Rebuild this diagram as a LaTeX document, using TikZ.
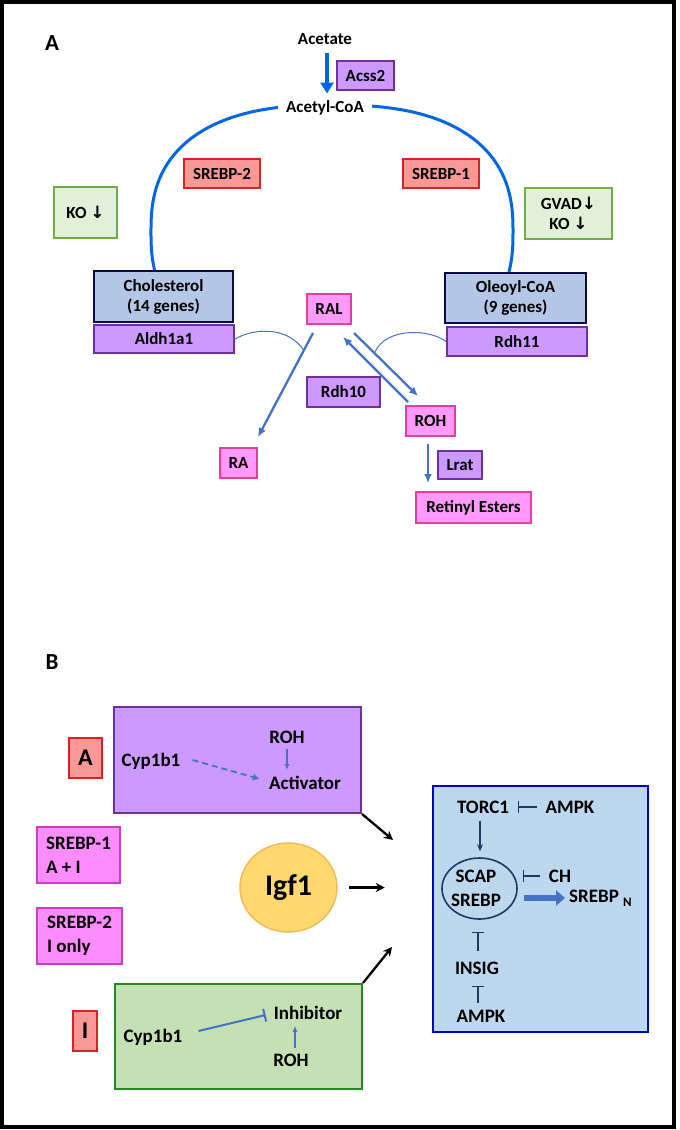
\documentclass[tikz,border=0pt]{standalone}
\usepackage{fontspec}
\setmainfont{Carlito}
\newfontfamily\symf{DejaVu Sans}
\usetikzlibrary{arrows.meta,shapes.geometric,calc}
\definecolor{salF}{RGB}{250,152,152}
\definecolor{salD}{RGB}{218,34,34}
\definecolor{grnF}{RGB}{226,240,217}
\definecolor{grnD}{RGB}{112,173,71}
\definecolor{navF}{RGB}{180,199,231}
\definecolor{navD}{RGB}{10,10,70}
\definecolor{purF}{RGB}{204,153,255}
\definecolor{purD}{RGB}{112,48,160}
\definecolor{pnkF}{RGB}{255,153,250}
\definecolor{pnkD}{RGB}{232,62,150}
\definecolor{magF}{RGB}{255,140,255}
\definecolor{magD}{RGB}{205,60,200}
\definecolor{igfF}{RGB}{255,217,110}
\definecolor{igfD}{RGB}{244,185,90}
\definecolor{gbF}{RGB}{197,224,180}
\definecolor{gbD}{RGB}{30,140,30}
\definecolor{bbF}{RGB}{189,215,238}
\definecolor{bbD}{RGB}{0,0,215}
\definecolor{arcB}{RGB}{0,102,225}
\definecolor{stB}{RGB}{68,114,196}
\definecolor{dkB}{RGB}{31,56,100}
\tikzset{
  lbl/.style={font=\bfseries\fontsize{17}{20}\selectfont, inner sep=0pt, align=center},
  lblb/.style={font=\bfseries\fontsize{19}{24}\selectfont, inner sep=0pt, align=center},
  boxa/.style={lbl, draw},
  salbox/.style={boxa, fill=salF, draw=salD, line width=1.8pt},
  grnbox/.style={boxa, fill=grnF, draw=grnD, line width=2.2pt},
  navbox/.style={boxa, fill=navF, draw=navD, line width=2.8pt},
  purbox/.style={boxa, fill=purF, draw=purD, line width=2pt},
  pnkbox/.style={boxa, fill=pnkF, draw=pnkD, line width=2pt},
  magbox/.style={lblb, draw, fill=magF, draw=magD, line width=1.8pt, align=left},
  sarr/.style={draw=stB, line width=2.3pt, -{Latex[length=9pt,width=8pt]}},
  thin/.style={draw=stB, line width=1pt},
  barr/.style={draw=black, line width=2.3pt, -{Stealth[length=9pt,width=9pt]}},
  inh/.style={draw=dkB, line width=1.6pt, -{Bar[width=12pt,line width=1.6pt]}},
  darr/.style={draw=dkB, line width=1.6pt, -{Stealth[length=7pt,width=6pt]}},
}
\begin{document}
\begin{tikzpicture}[x=1pt,y=-1pt]
\useasboundingbox (0,0) rectangle (680,1130);
\draw[line width=4pt] (2,2) rectangle (674,1127);

% ---------- Panel A ----------
\node[lbl, font=\bfseries\fontsize{23}{26}\selectfont] (labA) at (52,43) {A};

\draw[draw=arcB, line width=3pt] plot[domain=-13.6:192.8, samples=120, smooth]
  ({332+181*sign(cos(\x))*pow(abs(cos(\x))+0.00001,0.8)}, {232-127*sign(sin(\x))*pow(abs(sin(\x))+0.00001,0.8)});

\node[lbl] (acetate) at (325,39) {Acetate};
\node[lbl, fill=white, inner xsep=8pt, inner ysep=3pt] (acetyl) at (325,108) {Acetyl-CoA};
\draw[draw=arcB, line width=4pt, -{Triangle[length=11pt,width=13pt]}]
  ($(acetate.south)+(2,8)$) -- ($(acetyl.north)+(2,-4)$);
\node[purbox, minimum width=57pt, minimum height=29pt] (acss) at (365.5,75.5) {Acss2};

\node[salbox, minimum width=76pt, minimum height=29pt] (srebp2) at (222,173.5) {SREBP-2};
\node[salbox, minimum width=76pt, minimum height=29pt] (srebp1) at (441,173.5) {SREBP-1};
\node[grnbox, minimum width=63pt, minimum height=51pt] (ko) at (85.5,212.5) {KO {\symf\bfseries ↓}};
\node[grnbox, minimum width=87pt, minimum height=51pt] (gvad) at (568.5,213.5) {GVAD{\symf\bfseries ↓}\\KO {\symf\bfseries ↓}};

\node[navbox, minimum width=139pt, minimum height=51pt] (chol) at (163.5,296.5) {Cholesterol\\(14 genes)};
\node[purbox, minimum width=140pt, minimum height=28pt] (aldh) at (164,339) {Aldh1a1};
\node[navbox, minimum width=141pt, minimum height=50pt] (ole) at (515.5,298) {Oleoyl-CoA\\(9 genes)};
\node[purbox, minimum width=140pt, minimum height=29pt] (rdh11) at (517,341.5) {Rdh11};

\node[pnkbox, minimum width=44pt, minimum height=30pt] (ral) at (329,309) {RAL};
\node[purbox, minimum width=73pt, minimum height=30pt] (rdh10) at (343.5,392) {Rdh10};
\node[pnkbox, minimum width=49pt, minimum height=30pt] (roh) at (430.5,421) {ROH};
\node[pnkbox, minimum width=37pt, minimum height=30pt] (ra) at (238.5,463) {RA};
\node[purbox, minimum width=44pt, minimum height=28pt] (lrat) at (460,465) {Lrat};
\node[pnkbox, minimum width=115pt, minimum height=31pt] (ret) at (473.5,507.5) {Retinyl Esters};

\draw[sarr] ($(ral.south)+(-16,8)$) -- ($(ra.north east)+(0,-10)$);
\draw[sarr] ($(ral.south)+(25,8)$) -- ($(roh.north)+(-12.5,-9)$);
\draw[sarr] ($(roh.north)+(-22.5,-3)$) -- ($(ral.south)+(14,12)$);
\draw[sarr] ($(roh.south)+(-2.5,7)$) -- ($(ret.north)+(-45.5,-8)$);

\draw[thin] (aldh.east) .. controls (258,326) and (290,329) .. (303.5,350);
\draw[thin] (rdh11.west) .. controls (430,329) and (386,327) .. (375,352);

% ---------- Panel B ----------
\node[lbl, font=\bfseries\fontsize{23}{26}\selectfont] (labB) at (52,662) {B};

\node[draw=purD, fill=purF, line width=2pt, minimum width=247pt, minimum height=106pt, inner sep=0pt] (actbox) at (237.5,760) {};
\node[lblb] (cyp1) at (151,761) {Cyp1b1};
\node[lblb] (roh1) at (287,737) {ROH};
\node[lblb] (act) at (305,783) {Activator};
\draw[draw=stB, line width=1.8pt, dash pattern=on 6pt off 4pt, -{Latex[length=7pt,width=7pt]}]
  ($(cyp1.east)+(12,-1)$) -- ($(act.west)+(-9,-4)$);
\draw[draw=stB, line width=1.5pt, -{Latex[length=6pt,width=5pt]}]
  ($(roh1.south)+(0,5)$) -- ($(roh1.south |- act.north)+(0,-6)$);

\node[salbox, font=\bfseries\fontsize{24}{26}\selectfont, minimum width=33pt, minimum height=40pt] (boxA) at (85.5,758) {A};

\node[magbox, minimum width=83pt, minimum height=56pt] (s1) at (78.5,855) {SREBP-1\\A + I};
\node[magbox, minimum width=85pt, minimum height=56pt] (s2) at (79.5,936) {SREBP-2\\I only};

\node[ellipse, draw=igfD, fill=igfF, line width=1.5pt, minimum width=97pt, minimum height=89pt, inner sep=0pt,
      font=\bfseries\fontsize{30}{32}\selectfont] (igf) at (288.5,887.5) {Igf1};
\draw[barr] ($(igf.east)+(11,0)$) -- ($(igf.east)+(47,0)$);

\node[draw=gbD, fill=gbF, line width=2pt, minimum width=247pt, minimum height=105pt, inner sep=0pt] (inhbox) at (238.5,1036.5) {};
\node[lblb] (cyp2) at (153,1037) {Cyp1b1};
\node[lblb] (inhib) at (308,1013) {Inhibitor};
\node[lblb] (roh2) at (291,1060) {ROH};
\draw[draw=stB, line width=2pt, -{Bar[width=13pt,line width=2pt]}]
  ($(cyp2.east)+(16,-6)$) -- ($(inhib.west)+(-8,2)$);
\draw[draw=stB, line width=1.5pt, -{Latex[length=6pt,width=5pt]}]
  ($(roh2.north)+(4,-6)$) -- ($(roh2.north |- inhib.south)+(4,6)$);

\node[salbox, font=\bfseries\fontsize{24}{26}\selectfont, minimum width=24pt, minimum height=40pt] (boxI) at (85,1031) {I};

\draw[barr] (actbox.south east) -- ($(actbox.south east)+(31,26)$);
\draw[barr] (inhbox.north east) -- ($(inhbox.north east)+(29,-36)$);

% blue box
\node[draw=bbD, fill=bbF, line width=2pt, minimum width=215pt, minimum height=246pt, inner sep=0pt] (bb) at (540.5,909) {};
\node[lblb] (torc) at (483,807) {TORC1};
\node[lblb] (ampk1) at (570,807) {AMPK};
\draw[inh] ($(ampk1.west)+(-8,0)$) -- ($(torc.east)+(8.5,0)$);
\node[ellipse, draw=dkB, line width=1.6pt, minimum width=75pt, minimum height=61pt, inner sep=0pt] (ell) at (479.5,888.5) {};
\node[lblb] (scap) at (476,888) {SCAP\\SREBP};
\draw[darr] ($(torc.south)+(-3,7)$) -- ($(torc.south |- ell.north)+(-3,-6)$);
\node[lblb] (ch) at (560,876) {CH};
\draw[inh] ($(ch.west)+(-9,0)$) -- ($(ell.east |- ch.west)+(5,0)$);
\node[lblb, anchor=west] (srebpn) at (569,898) {SREBP~\raisebox{-4pt}{\fontsize{13}{13}\selectfont N}};
\draw[draw=stB, line width=6pt, -{Triangle[length=9pt,width=15pt]}]
  ($(ell.east)+(6,9.5)$) -- ($(srebpn.west |- ell.east)+(-4,9.5)$);
\node[lblb] (insig) at (477,968) {INSIG};
\node[lblb] (ampk2) at (481,1016) {AMPK};
\draw[inh] ($(insig.north)+(1,-11)$) -- ($(insig.north |- ell.south)+(1,12)$);
\draw[inh] ($(ampk2.north)+(-3,-7)$) -- ($(ampk2.north |- insig.south)+(-3,11)$);
\end{tikzpicture}
\end{document}
